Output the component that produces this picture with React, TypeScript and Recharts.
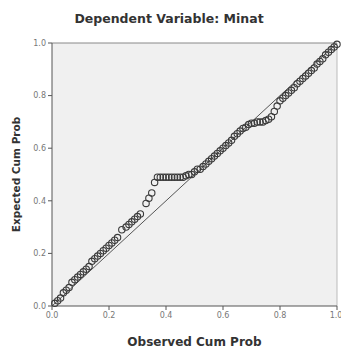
import React from 'react';
import { ScatterChart, Scatter, XAxis, YAxis, CartesianGrid, ReferenceLine } from 'recharts';

const observed = [
  0.01, 0.02, 0.03, 0.04, 0.05, 0.06, 0.07, 0.08, 0.09, 0.1,
  0.11, 0.12, 0.13, 0.14, 0.15, 0.16, 0.17, 0.18, 0.19, 0.2,
  0.21, 0.22, 0.23, 0.245, 0.26, 0.27, 0.28, 0.29, 0.3, 0.31,
  0.33, 0.34, 0.35, 0.36, 0.37, 0.38, 0.39, 0.4, 0.41, 0.42,
  0.43, 0.44, 0.45, 0.46, 0.47, 0.48, 0.49, 0.5, 0.51, 0.52,
  0.53, 0.54, 0.55, 0.56, 0.57, 0.58, 0.59, 0.6, 0.61, 0.62,
  0.63, 0.64, 0.65, 0.66, 0.67, 0.68, 0.69, 0.7, 0.71, 0.72,
  0.73, 0.74, 0.75, 0.76, 0.77, 0.78, 0.79, 0.8, 0.81, 0.82,
  0.83, 0.84, 0.85, 0.86, 0.87, 0.88, 0.89, 0.9, 0.91, 0.92,
  0.93, 0.94, 0.95, 0.96, 0.97, 0.98, 0.99, 1.0,
];

const expected = [
  0.01, 0.02, 0.03, 0.05, 0.06, 0.07, 0.09, 0.1, 0.11, 0.12,
  0.13, 0.14, 0.15, 0.17, 0.18, 0.19, 0.2, 0.21, 0.22, 0.23,
  0.24, 0.25, 0.26, 0.29, 0.3, 0.31, 0.32, 0.33, 0.34, 0.35,
  0.39, 0.41, 0.43, 0.47, 0.49, 0.49, 0.49, 0.49, 0.49, 0.49,
  0.49, 0.49, 0.49, 0.49, 0.495, 0.5, 0.5, 0.51, 0.52, 0.52,
  0.53, 0.54, 0.55, 0.56, 0.57, 0.58, 0.59, 0.6, 0.61, 0.62,
  0.63, 0.645, 0.655, 0.665, 0.675, 0.68, 0.69, 0.695, 0.695, 0.7,
  0.7, 0.7, 0.705, 0.71, 0.72, 0.74, 0.76, 0.78, 0.79, 0.8,
  0.81, 0.82, 0.83, 0.845, 0.855, 0.865, 0.875, 0.885, 0.895, 0.905,
  0.92, 0.93, 0.94, 0.955, 0.965, 0.975, 0.985, 0.995,
];

const ticks = [0, 0.2, 0.4, 0.6, 0.8, 1.0];
const fitLine = [{ x: 0, y: 0 }, { x: 1, y: 1 }];

const points = observed.map((o, i) => ({ x: o, y: expected[i] }));

const font = '"DejaVu Sans", Verdana, sans-serif';

const Ring = (props: any) => {
  const { cx, cy } = props;
  return <circle cx={cx} cy={cy} r={3.2} fill="none" stroke="#3a3a3a" strokeWidth={1.1} />;
};

export default function App() {
  return (
    <div style={{ position: 'absolute', left: 0, top: 0, width: 341, height: 349, background: '#fff', fontFamily: font }}>
      <div style={{ position: 'absolute', left: 70, top: 11, width: 198, textAlign: 'center', fontSize: 12.5, fontWeight: 'bold', color: '#333', whiteSpace: 'nowrap' }}>
        Dependent Variable: Minat
      </div>
      <ScatterChart width={341} height={349} margin={{ top: 43, right: 4, left: 0, bottom: 0 }}>
        <CartesianGrid horizontal={false} vertical={false} fill="#f0f0f0" />
        <XAxis
          type="number"
          dataKey="x"
          domain={[0, 1]}
          ticks={ticks}
          tickFormatter={(v: number) => v.toFixed(1)}
          height={43}
          stroke="#555"
          tickSize={4}
          tick={{ fontSize: 8, fill: '#777', fontFamily: font }}
          label={{ value: 'Observed Cum Prob', position: 'insideBottom', offset: 3, fontSize: 12, fontWeight: 'bold', fill: '#333', fontFamily: font }}
        />
        <YAxis
          type="number"
          dataKey="y"
          domain={[0, 1]}
          ticks={ticks}
          tickFormatter={(v: number) => v.toFixed(1)}
          width={52}
          stroke="#555"
          tickSize={4}
          tick={{ fontSize: 8, fill: '#777', fontFamily: font }}
          label={{ value: 'Expected Cum Prob', angle: -90, position: 'insideLeft', offset: 16, style: { textAnchor: 'middle' }, fontSize: 10.5, fontWeight: 'bold', fill: '#333', fontFamily: font }}
        />
        <ReferenceLine segment={fitLine} stroke="#555" strokeWidth={1} />
        <ReferenceLine y={1} stroke="#888" />
        <ReferenceLine x={1} stroke="#bbb" />
        <Scatter data={points} shape={Ring} isAnimationActive={false} />
      </ScatterChart>
    </div>
  );
}
